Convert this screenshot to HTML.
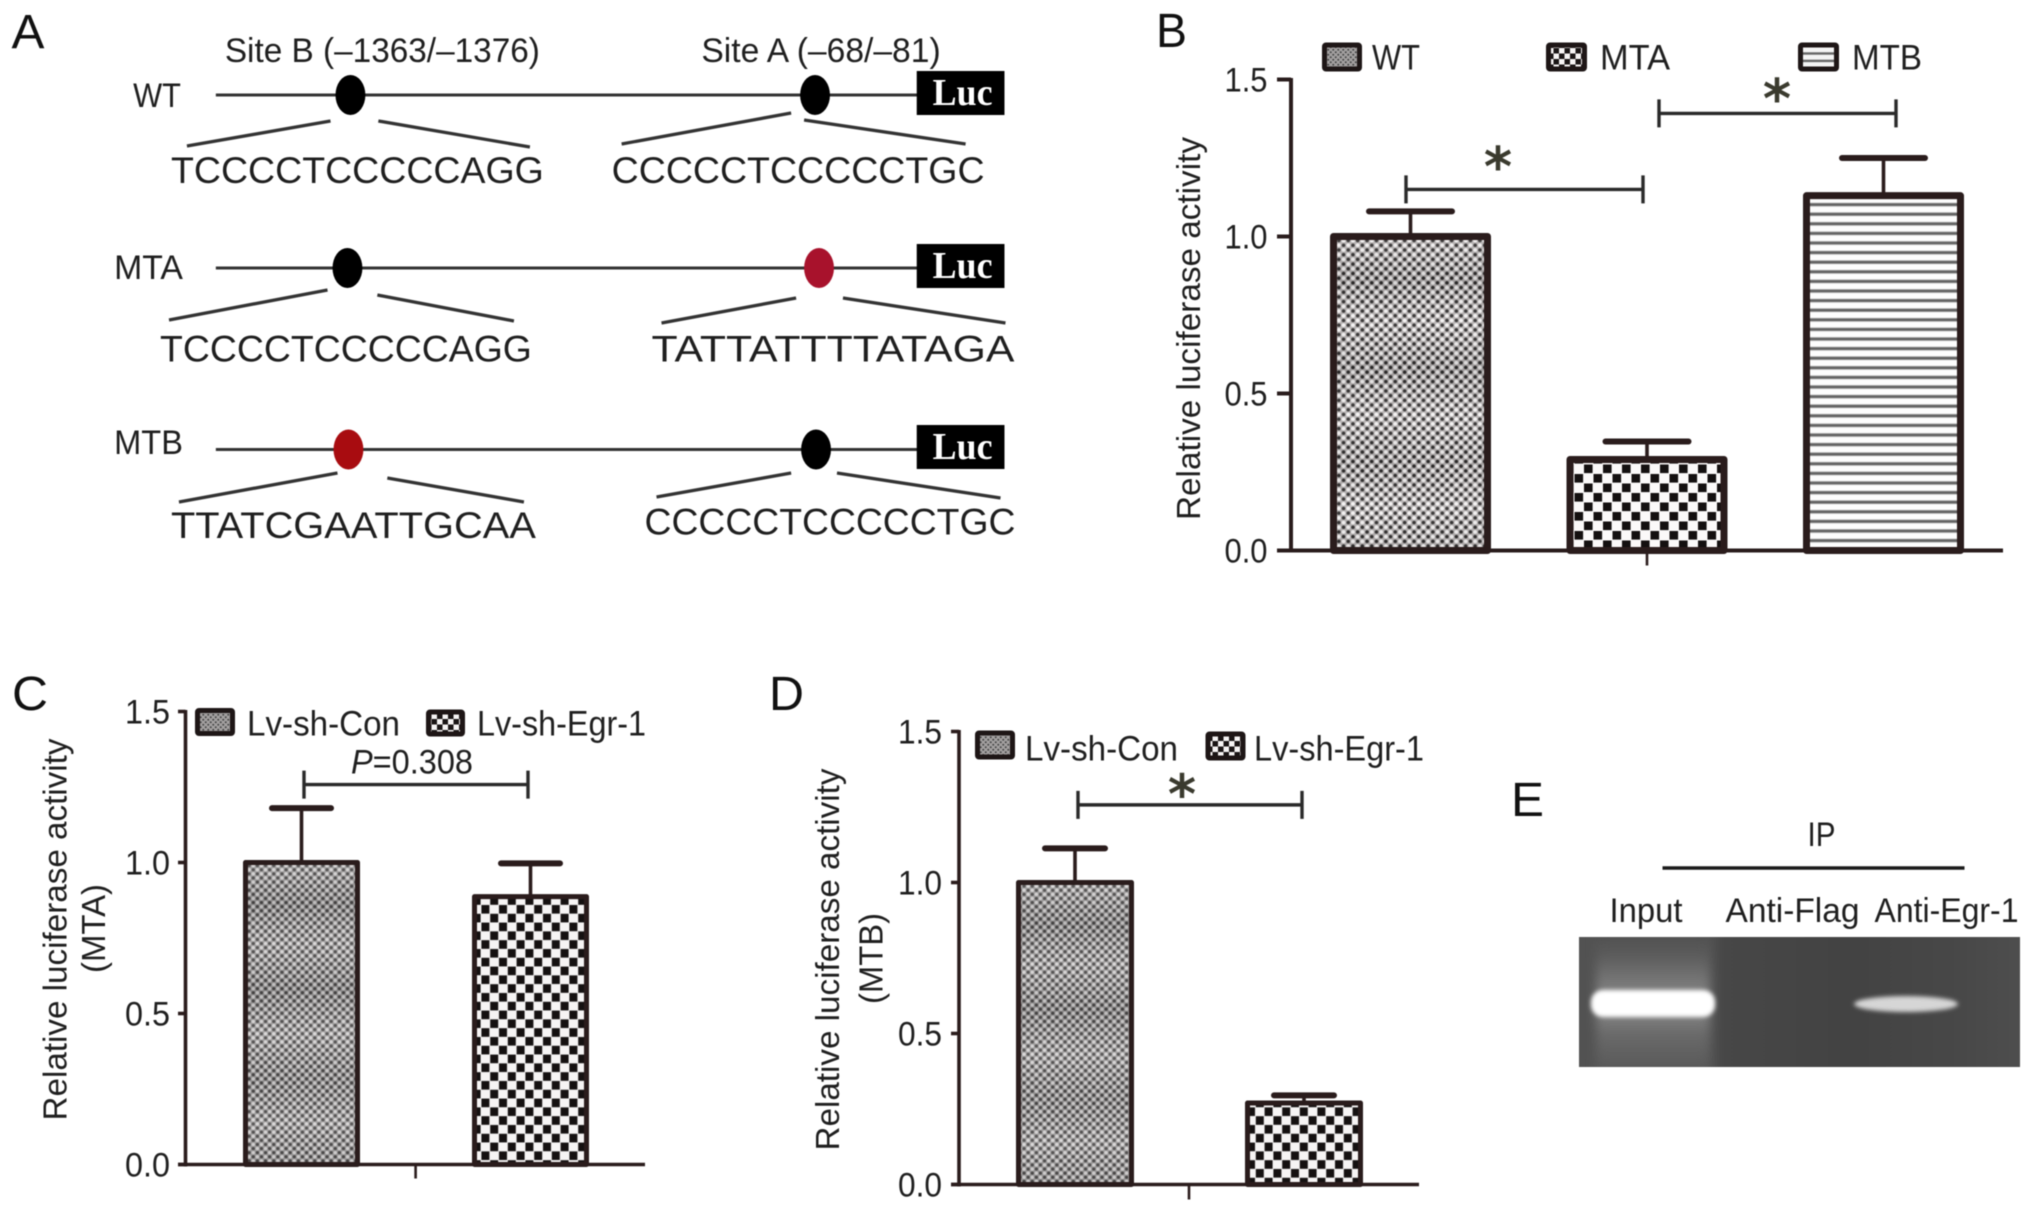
<!DOCTYPE html>
<html lang="en">
<head>
<meta charset="utf-8">
<title>Luciferase reporter assay figure</title>
<style>
html,body{margin:0;padding:0;background:#fff;width:2032px;height:1212px;overflow:hidden}
svg{display:block;filter:blur(.6px)}
text{font-family:"Liberation Sans",sans-serif;fill:#1f1f1f}
.seq{font-size:37px}
.lbl{font-size:34px}
.panel{font-size:48px;fill:#111}
.luc{font-family:"Liberation Serif",serif;font-weight:bold;font-size:38px;fill:#fff}
.gene{stroke:#333;stroke-width:3}
.link{stroke:#333;stroke-width:3.3}
</style>
</head>
<body>
<svg id="figure" xmlns="http://www.w3.org/2000/svg" width="2032" height="1212" viewBox="0 0 2032 1212">
<defs>
<pattern id="dotsB" width="9.4" height="9.4" patternUnits="userSpaceOnUse"><rect width="9.4" height="9.4" fill="#b3afaf"/><circle cx="2.35" cy="2.35" r="1.75" fill="#2c2a2a"/><circle cx="7.05" cy="7.05" r="1.75" fill="#2c2a2a"/><circle cx="7.05" cy="2.35" r="1.9" fill="#f6f4f4"/><circle cx="2.35" cy="7.05" r="1.9" fill="#f6f4f4"/></pattern>
<pattern id="dotsC" width="8.2" height="8.2" patternUnits="userSpaceOnUse"><rect width="8.2" height="8.2" fill="#9c9a9a"/><circle cx="2.05" cy="2.05" r="1.6" fill="#484646"/><circle cx="6.15" cy="6.15" r="1.6" fill="#484646"/><circle cx="6.15" cy="2.05" r="1.7" fill="#d8d6d6"/><circle cx="2.05" cy="6.15" r="1.7" fill="#d8d6d6"/></pattern>
<pattern id="checkB" width="19" height="19" patternUnits="userSpaceOnUse"><rect width="19" height="19" fill="#fbf9f9"/><rect x=".5" y=".5" width="8.6" height="8.6" fill="#141010"/><rect x="10" y="10" width="8.6" height="8.6" fill="#141010"/></pattern>
<pattern id="checkC" width="17.6" height="17.6" patternUnits="userSpaceOnUse"><rect width="17.6" height="17.6" fill="#f6f4f4"/><rect x=".4" y=".1" width="8" height="8.6" fill="#151111"/><rect x="9.2" y="8.9" width="8" height="8.6" fill="#151111"/></pattern>
<pattern id="stripe" width="10" height="9.6" patternUnits="userSpaceOnUse"><rect width="10" height="9.6" fill="#fdfdfd"/><rect y="2.4" width="10" height="4.2" fill="#c6c6c6"/><rect y="3.2" width="10" height="2.6" fill="#626262"/></pattern>
<pattern id="dotsS" width="5" height="5" patternUnits="userSpaceOnUse"><rect width="5" height="5" fill="#a3a0a0"/><circle cx="1.25" cy="1.25" r="1" fill="#444"/><circle cx="3.75" cy="3.75" r="1" fill="#444"/></pattern>
<pattern id="checkS" width="11" height="11" patternUnits="userSpaceOnUse"><rect width="11" height="11" fill="#f6f4f4"/><rect width="5.5" height="5.5" fill="#1a1515"/><rect x="5.5" y="5.5" width="5.5" height="5.5" fill="#1a1515"/></pattern>
<pattern id="stripeS" width="5" height="7.4" patternUnits="userSpaceOnUse"><rect width="5" height="7.4" fill="#f4f4f4"/><rect y="2" width="5" height="2.4" fill="#666"/></pattern>
<linearGradient id="moire" x1="0" y1="0" x2="0" y2="1">
<stop offset="0" stop-color="#fff" stop-opacity=".1"/><stop offset=".14" stop-color="#000" stop-opacity=".12"/><stop offset=".27" stop-color="#fff" stop-opacity=".08"/><stop offset=".42" stop-color="#000" stop-opacity=".12"/><stop offset=".57" stop-color="#fff" stop-opacity=".1"/><stop offset=".72" stop-color="#000" stop-opacity=".08"/><stop offset=".86" stop-color="#fff" stop-opacity=".1"/><stop offset="1" stop-color="#000" stop-opacity=".05"/>
</linearGradient>
<linearGradient id="gelBase" x1="0" y1="0" x2="1" y2="0">
<stop offset="0" stop-color="#525252"/><stop offset=".28" stop-color="#545454"/><stop offset=".33" stop-color="#474747"/><stop offset=".62" stop-color="#434343"/><stop offset=".86" stop-color="#484848"/><stop offset="1" stop-color="#4e4e4e"/>
</linearGradient>
<linearGradient id="laneGrad" x1="0" y1="0" x2="0" y2="1">
<stop offset="0" stop-color="#4b4b4b"/><stop offset=".2" stop-color="#5b5b5b"/><stop offset=".4" stop-color="#7a7a7a"/><stop offset=".55" stop-color="#8a8a8a"/><stop offset=".72" stop-color="#6a6a6a"/><stop offset="1" stop-color="#565656"/>
</linearGradient>
<filter id="soft2" x="-30%" y="-50%" width="160%" height="200%"><feGaussianBlur stdDeviation="2.2"/></filter>
<filter id="soft4" x="-30%" y="-30%" width="160%" height="160%"><feGaussianBlur stdDeviation="5"/></filter>
<clipPath id="gelClip"><rect x="1579" y="937" width="441" height="130"/></clipPath>
</defs>

<g id="panel-a" transform="matrix(.997 0 0 1 -1.5 -1)">
<text class="panel" x="13" y="49" textLength="33" lengthAdjust="spacingAndGlyphs">A</text>
<text class="lbl" x="227" y="63" textLength="316" lengthAdjust="spacingAndGlyphs">Site B (–1363/–1376)</text>
<text class="lbl" x="705" y="63" textLength="240" lengthAdjust="spacingAndGlyphs">Site A (–68/–81)</text>

<g>
<text class="lbl" x="135" y="108" textLength="48" lengthAdjust="spacingAndGlyphs">WT</text>
<line class="gene" x1="218" y1="96" x2="923" y2="96"/>
<ellipse cx="353" cy="96" rx="15" ry="20" fill="#000"/>
<ellipse cx="819" cy="96" rx="15" ry="20" fill="#000"/>
<rect x="921" y="72" width="88" height="44" fill="#000"/>
<text class="luc" x="937" y="106" textLength="60" lengthAdjust="spacingAndGlyphs">Luc</text>
<line class="link" x1="189" y1="147" x2="333" y2="122"/>
<line class="link" x1="381" y1="122" x2="533" y2="148"/>
<line class="link" x1="625" y1="145" x2="795" y2="114"/>
<line class="link" x1="808" y1="121" x2="970" y2="145"/>
<text class="seq" x="173" y="184" textLength="374" lengthAdjust="spacingAndGlyphs">TCCCCTCCCCCAGG</text>
<text class="seq" x="615" y="184" textLength="374" lengthAdjust="spacingAndGlyphs">CCCCCTCCCCCTGC</text>
</g>

<g>
<text class="lbl" x="116" y="280" textLength="69" lengthAdjust="spacingAndGlyphs">MTA</text>
<line class="gene" x1="218" y1="269" x2="923" y2="269"/>
<ellipse cx="350" cy="269" rx="15" ry="20" fill="#000"/>
<ellipse cx="823" cy="269" rx="15" ry="20" fill="#a8122c"/>
<rect x="921" y="245" width="88" height="44" fill="#000"/>
<text class="luc" x="937" y="279" textLength="60" lengthAdjust="spacingAndGlyphs">Luc</text>
<line class="link" x1="171" y1="321" x2="330" y2="291"/>
<line class="link" x1="380" y1="296" x2="517" y2="322"/>
<line class="link" x1="665" y1="324" x2="800" y2="299"/>
<line class="link" x1="847" y1="299" x2="1010" y2="324"/>
<text class="seq" x="162" y="362.5" textLength="373" lengthAdjust="spacingAndGlyphs">TCCCCTCCCCCAGG</text>
<text class="seq" x="655" y="362.5" textLength="364" lengthAdjust="spacingAndGlyphs">TATTATTTTATAGA</text>
</g>

<g>
<text class="lbl" x="116" y="455" textLength="69" lengthAdjust="spacingAndGlyphs">MTB</text>
<line class="gene" x1="218" y1="450.5" x2="923" y2="450.5"/>
<ellipse cx="351" cy="450.5" rx="15" ry="20" fill="#a80c10"/>
<ellipse cx="820" cy="450.5" rx="15" ry="20" fill="#000"/>
<rect x="921" y="426" width="88" height="44" fill="#000"/>
<text class="luc" x="937" y="460" textLength="60" lengthAdjust="spacingAndGlyphs">Luc</text>
<line class="link" x1="181" y1="503" x2="340" y2="474"/>
<line class="link" x1="390" y1="479" x2="527" y2="503"/>
<line class="link" x1="660" y1="498" x2="795" y2="474"/>
<line class="link" x1="841" y1="474" x2="1005" y2="499"/>
<text class="seq" x="173" y="539" textLength="366" lengthAdjust="spacingAndGlyphs">TTATCGAATTGCAA</text>
<text class="seq" x="648" y="535.5" textLength="372" lengthAdjust="spacingAndGlyphs">CCCCCTCCCCCTGC</text>
</g>
</g>

<text class="panel" x="1156" y="47" textLength="31" lengthAdjust="spacingAndGlyphs">B</text>
<text class="panel" x="12" y="710" textLength="36" lengthAdjust="spacingAndGlyphs">C</text>
<text class="panel" x="769" y="710" textLength="35" lengthAdjust="spacingAndGlyphs">D</text>

<g id="panel-e">
<text class="panel" x="1511" y="816" textLength="33" lengthAdjust="spacingAndGlyphs">E</text>
<g transform="translate(-2.5 0)">
<text class="lbl" x="1810" y="846" textLength="28" lengthAdjust="spacingAndGlyphs">IP</text>
<line x1="1665" y1="868" x2="1967" y2="868" stroke="#1a1a1a" stroke-width="3.5"/>
<text class="lbl" x="1612" y="922" textLength="73" lengthAdjust="spacingAndGlyphs">Input</text>
<text class="lbl" x="1728" y="922" textLength="134" lengthAdjust="spacingAndGlyphs">Anti-Flag</text>
<text class="lbl" x="1877" y="922" textLength="144" lengthAdjust="spacingAndGlyphs">Anti-Egr-1</text>
</g>
<g clip-path="url(#gelClip)">
<rect x="1579" y="937" width="442" height="130" fill="url(#gelBase)"/>
<rect x="1596" y="925" width="114" height="150" fill="url(#laneGrad)" filter="url(#soft4)"/>
<rect x="1591" y="990" width="124" height="27" rx="12" fill="#fff" filter="url(#soft2)"/>
<ellipse cx="1906" cy="1004" rx="52" ry="8" fill="#d6d6d6" filter="url(#soft2)"/>
</g>
</g>
<g id="charts" transform="translate(-3 -1.5)"></g>
</svg>

<script>
// Panel B data
const categoriesB = ['WT', 'MTA', 'MTB'];
const valuesB = [1.0, 0.29, 1.13];
const errorsB = [0.08, 0.057, 0.12];
const tickLabelsB = ['0.0', '0.5', '1.0', '1.5'];

// Panel C data
const categoriesC = ['Lv-sh-Con', 'Lv-sh-Egr-1'];
const valuesC = [1.0, 0.887];
const errorsC = [0.18, 0.11];
const tickLabelsC = ['0.0', '0.5', '1.0', '1.5'];

// Panel D data
const categoriesD = ['Lv-sh-Con', 'Lv-sh-Egr-1'];
const valuesD = [1.0, 0.27];
const errorsD = [0.113, 0.025];
const tickLabelsD = ['0.0', '0.5', '1.0', '1.5'];

const SVGNS = 'http://www.w3.org/2000/svg';
const DARK = '#2a1c1c';

function make(parent, tag, attrs, content) {
  const node = document.createElementNS(SVGNS, tag);
  for (const k in attrs) node.setAttribute(k, attrs[k]);
  if (content !== undefined) node.textContent = content;
  parent.appendChild(node);
  return node;
}

function drawChart(cfg) {
  const root = document.getElementById('charts');
  const g = make(root, 'g', {});
  
  

  const yScale = v => cfg.y0 - v * cfg.pxPerUnit;
  const maxTick = Math.max.apply(null, cfg.ticks.map(Number));
  const barLeft = i => cfg.barStart + i * cfg.barStep;
  const barCenter = i => barLeft(i) + cfg.barWidth / 2;

  // bars
  cfg.values.forEach((v, i) => {
    const h = yScale(0) - yScale(v);
    const bar = make(g, 'rect', {
      x: barLeft(i), y: yScale(v), width: cfg.barWidth, height: h,
      fill: 'url(#' + cfg.fills[i] + ')', stroke: 'none'
    });
    
    
    if (cfg.fills[i].indexOf('dots') === 0) {
      const band = make(g, 'rect', {
        x: barLeft(i), y: yScale(v), width: cfg.barWidth, height: h, fill: 'url(#moire)'
      });
      
      
    }
    const outline = make(g, 'rect', {
      x: barLeft(i), y: yScale(v), width: cfg.barWidth, height: h,
      fill: 'none', stroke: DARK, 'stroke-width': cfg.barStroke, 'stroke-linejoin': 'round'
    });
    
    

    const stem = make(g, 'line', {
      x1: barCenter(i), x2: barCenter(i), y1: yScale(v), y2: yScale(v + cfg.errors[i]),
      stroke: DARK, 'stroke-width': 3.6
    });
    
    
    const cap = make(g, 'line', {
      x1: barCenter(i) - cfg.capWidth / 2, x2: barCenter(i) + cfg.capWidth / 2,
      y1: yScale(v + cfg.errors[i]), y2: yScale(v + cfg.errors[i]),
      stroke: DARK, 'stroke-width': 6, 'stroke-linecap': 'round'
    });
    
    
  });

  // y axis
  const yAxis = make(g, 'line', {
    x1: cfg.axisX, x2: cfg.axisX, y1: yScale(maxTick) - 1.5, y2: yScale(0) + 2,
    stroke: DARK, 'stroke-width': cfg.axisStroke
  });
  
  

  cfg.ticks.forEach(label => {
    const v = Number(label);
    const tick = make(g, 'line', {
      x1: cfg.tickLeft, x2: cfg.axisX, y1: yScale(v), y2: yScale(v),
      stroke: DARK, 'stroke-width': cfg.axisStroke
    });
    
    
    const t = make(g, 'text', {
      x: cfg.tickTextRight, y: yScale(v) + 12, 'text-anchor': 'end', 'font-size': 34.5,
      textLength: cfg.tickTextWidth, lengthAdjust: 'spacingAndGlyphs'
    }, label);
    
    
  });

  // x axis
  const xAxis = make(g, 'line', {
    x1: cfg.tickLeft, x2: cfg.xAxisEnd, y1: yScale(0), y2: yScale(0),
    stroke: DARK, 'stroke-width': cfg.axisStroke
  });
  
  
  const xTick = make(g, 'line', {
    x1: cfg.xTickX, x2: cfg.xTickX, y1: yScale(0), y2: yScale(0) + cfg.xTickLen,
    stroke: DARK, 'stroke-width': 2.6
  });
  
  

  // y titles
  const title = make(g, 'text', {
    x: 0, y: 0, 'text-anchor': 'middle', 'font-size': 33,
    transform: 'translate(' + cfg.titleX + ' ' + cfg.titleY + ') rotate(-90)',
    textLength: cfg.titleLen, lengthAdjust: 'spacingAndGlyphs'
  }, 'Relative luciferase activity');
  
  
  if (cfg.subtitle) {
    const sub = make(g, 'text', {
      x: 0, y: 0, 'text-anchor': 'middle', 'font-size': 33,
      transform: 'translate(' + cfg.subX + ' ' + cfg.subY + ') rotate(-90)',
      textLength: cfg.subLen, lengthAdjust: 'spacingAndGlyphs'
    }, cfg.subtitle);
    
    
  }

  // legend
  cfg.categories.forEach((c, i) => {
    const L = cfg.legend[i];
    const swatch = make(g, 'rect', {
      x: L.x + 2.5, y: L.y + 2.5, width: L.w - 5, height: L.h - 5, rx: 1.5,
      fill: 'url(#' + cfg.legendFills[i] + ')', stroke: '#1e1616', 'stroke-width': 5
    });
    
    
    const t = make(g, 'text', {
      x: L.tx, y: L.ty, 'font-size': 35, textLength: L.tw, lengthAdjust: 'spacingAndGlyphs'
    }, c);
    
    
  });

  // significance brackets
  cfg.brackets.forEach(b => {
    const by = yScale(b.level);
    const line = make(g, 'path', {
      d: 'M' + b.x1 + ' ' + (by - 14) + 'V' + (by + 14) + 'M' + b.x1 + ' ' + by + 'H' + b.x2 + 'M' + b.x2 + ' ' + (by - 14) + 'V' + (by + 14),
      fill: 'none', stroke: '#2a2a2a', 'stroke-width': 3.4
    });
    
    
    if (b.star) {
      const s = make(g, 'text', {
        x: b.starX, y: by + b.starDy, 'text-anchor': 'middle', 'font-size': 54, 'font-weight': 'bold',
        style: 'font-family:"DejaVu Sans",sans-serif;fill:#3a3a2e'
      }, '*');
      
      
    }
    if (b.pText) {
      const p = make(g, 'text', {
        x: b.pX, y: by - 11, 'font-size': 34, textLength: b.pW, lengthAdjust: 'spacingAndGlyphs'
      });
      
      
      make(p, 'tspan', { 'font-style': 'italic' }, 'P');
      make(p, 'tspan', {}, b.pText);
    }
  });
}

drawChart({
  name: 'panel-b-chart',
  categories: categoriesB, values: valuesB, errors: errorsB, ticks: tickLabelsB,
  fills: ['dotsB', 'checkB', 'stripe'], legendFills: ['dotsS', 'checkS', 'stripeS'],
  y0: 552, pxPerUnit: 314, axisX: 1294, tickLeft: 1280, xAxisEnd: 2006,
  tickTextRight: 1270.5, tickTextWidth: 43, xTickX: 1650, xTickLen: 15,
  barStart: 1336.5, barStep: 236.5, barWidth: 154, barStroke: 7, capWidth: 83, axisStroke: 4,
  titleX: 1203, titleY: 330, titleLen: 383,
  legend: [
    { x: 1325, y: 44, w: 40, h: 29, tx: 1375, ty: 71, tw: 48 },
    { x: 1549, y: 44, w: 41, h: 29, tx: 1603, ty: 71, tw: 70 },
    { x: 1801, y: 44, w: 41, h: 29, tx: 1855, ty: 71, tw: 70 }
  ],
  brackets: [
    { x1: 1409, x2: 1646, level: 1.15, star: true, starX: 1501, starDy: -4 },
    { x1: 1662, x2: 1899, level: 1.392, star: true, starX: 1780, starDy: 4 }
  ]
});

drawChart({
  name: 'panel-c-chart',
  categories: categoriesC, values: valuesC, errors: errorsC, ticks: tickLabelsC,
  fills: ['dotsC', 'checkC'], legendFills: ['dotsS', 'checkS'],
  y0: 1166, pxPerUnit: 302, axisX: 188.5, tickLeft: 181, xAxisEnd: 648,
  tickTextRight: 173, tickTextWidth: 45, xTickX: 418.6, xTickLen: 14,
  barStart: 248.5, barStep: 229, barWidth: 112, barStroke: 5, capWidth: 59, axisStroke: 3.6,
  titleX: 69.5, titleY: 931, titleLen: 382,
  subtitle: '(MTA)', subX: 108, subY: 930, subLen: 89,
  legend: [
    { x: 198, y: 709.5, w: 40, h: 28, tx: 250, ty: 737, tw: 153 },
    { x: 429, y: 711, w: 39, h: 27, tx: 480, ty: 737, tw: 169 }
  ],
  brackets: [
    { x1: 307, x2: 531, level: 1.258, pText: '=0.308', pX: 354, pW: 122 }
  ]
});

drawChart({
  name: 'panel-d-chart',
  categories: categoriesD, values: valuesD, errors: errorsD, ticks: tickLabelsD,
  fills: ['dotsC', 'checkC'], legendFills: ['dotsS', 'checkS'],
  y0: 1186, pxPerUnit: 302, axisX: 962, tickLeft: 954, xAxisEnd: 1422,
  tickTextRight: 945, tickTextWidth: 44, xTickX: 1192, xTickLen: 15,
  barStart: 1021.5, barStep: 229, barWidth: 113, barStroke: 5, capWidth: 60, axisStroke: 3.6,
  titleX: 842, titleY: 961, titleLen: 382,
  subtitle: '(MTB)', subX: 885.5, subY: 960, subLen: 91,
  legend: [
    { x: 978, y: 732, w: 40, h: 29, tx: 1028, ty: 762, tw: 153 },
    { x: 1208.5, y: 733, w: 40, h: 29, tx: 1257, ty: 762, tw: 170 }
  ],
  brackets: [
    { x1: 1081, x2: 1305, level: 1.257, star: true, starX: 1185, starDy: 8 }
  ]
});
</script>
</body>
</html>
